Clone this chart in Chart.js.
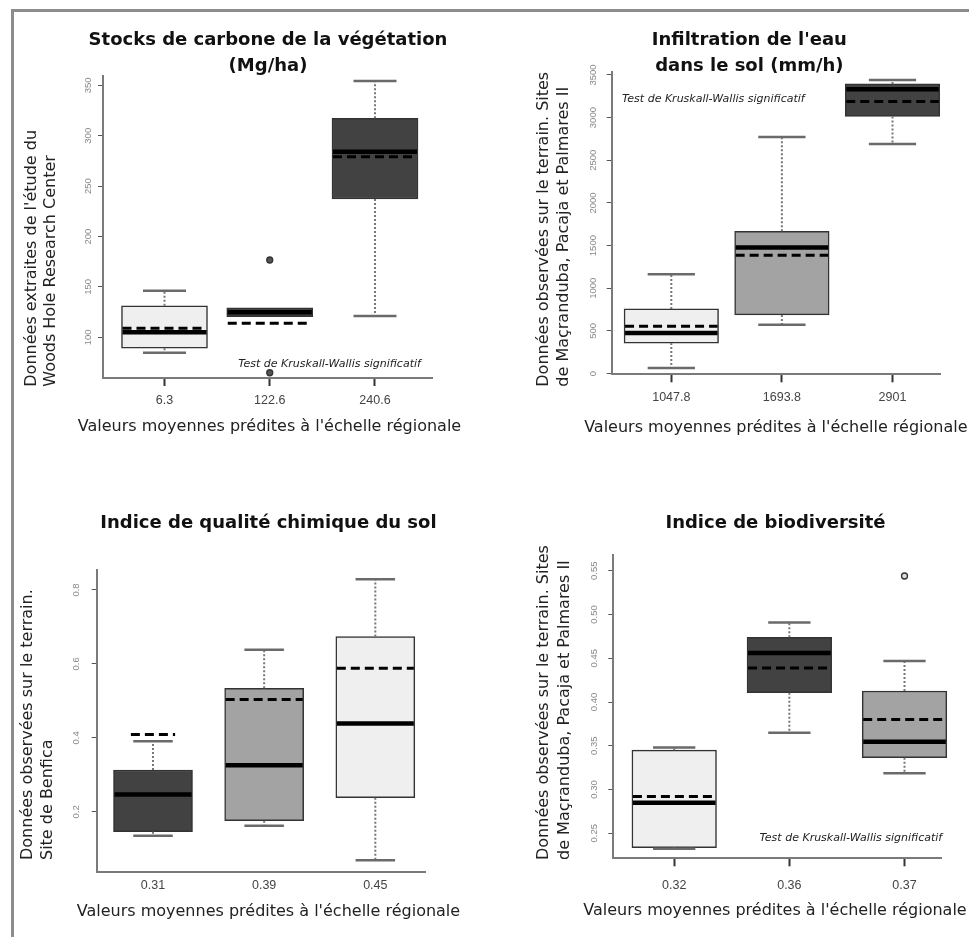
<!DOCTYPE html>
<html>
<head>
<meta charset="utf-8">
<script src="https://cdn.jsdelivr.net/npm/chart.js@4.4.1/dist/chart.umd.min.js"></script>
<style>
  body { margin: 0; background: #fff; width: 969px; height: 937px; overflow: hidden; position: relative; }
  #frame { position: absolute; left: 11px; top: 9px; width: 980px; height: 950px; border-top: 3px solid #8c8c8c; border-left: 3px solid #8c8c8c; }
  canvas { position: absolute; }
</style>
</head>
<body>
<div id="frame"></div>
<canvas id="carbonChart" width="470" height="448" style="left:14px;top:12px"></canvas>
<canvas id="infilChart" width="485" height="448" style="left:484px;top:12px"></canvas>
<canvas id="chimieChart" width="470" height="457" style="left:14px;top:480px"></canvas>
<canvas id="biodivChart" width="485" height="457" style="left:484px;top:480px"></canvas>
<script>
// Stocks de carbone
const carbonLabels = ['6.3', '122.6', '240.6'];
const carbonQ1 = [89.1, 120.4, 237.2];
const carbonQ3 = [131.3, 129.3, 317.3];
const carbonMedian = [105, 124.8, 284.1];
const carbonMean = [108.9, 113.9, 279.2];
const carbonLow = [84.7, 120.4, 121.1];
const carbonHigh = [146.2, 129.3, 354.3];
const carbonOutliers = [{x: 2, y: 176.7}, {x: 2, y: 64.8}];
const carbonYTicks = [100, 150, 200, 250, 300, 350];

// Infiltration
const infilLabels = ['1047.8', '1693.8', '2901'];
const infilQ1 = [358, 688, 3013];
const infilQ3 = [758, 1668, 3395];
const infilMedian = [475, 1478, 3333];
const infilMean = [556, 1388, 3189];
const infilLow = [66, 572, 2692];
const infilHigh = [1163, 2773, 3442];
const infilOutliers = [];
const infilYTicks = [0, 500, 1000, 1500, 2000, 2500, 3000, 3500];

// Qualité chimique
const chimieLabels = ['0.31', '0.39', '0.45'];
const chimieQ1 = [0.146, 0.176, 0.238];
const chimieQ3 = [0.313, 0.534, 0.674];
const chimieMedian = [0.247, 0.326, 0.439];
const chimieMean = [0.409, 0.504, 0.588];
const chimieLow = [0.135, 0.162, 0.069];
const chimieHigh = [0.391, 0.638, 0.829];
const chimieOutliers = [];
const chimieYTicks = [0.2, 0.4, 0.6, 0.8];

// Biodiversité
const biodivLabels = ['0.32', '0.36', '0.37'];
const biodivQ1 = [0.2336, 0.4106, 0.3364];
const biodivQ3 = [0.345, 0.474, 0.4126];
const biodivMedian = [0.285, 0.456, 0.3547];
const biodivMean = [0.292, 0.439, 0.380];
const biodivLow = [0.2324, 0.365, 0.3185];
const biodivHigh = [0.348, 0.491, 0.447];
const biodivOutliers = [{x: 3, y: 0.544}];
const biodivYTicks = [0.25, 0.30, 0.35, 0.40, 0.45, 0.50, 0.55];

const FONT = "'Liberation Sans', Arial, sans-serif";
const WIDE = "'DejaVu Sans', sans-serif";
const LIGHT = '#efefef', MID = '#a3a3a3', DARK = '#424242';
const xTitle = "Valeurs moyennes prédites à l'échelle régionale";
const kwText = 'Test de Kruskall-Wallis significatif';

const boxExtras = {
  id: 'boxExtras',
  afterDatasetsDraw(chart, args, o) {
    const ctx = chart.ctx, xs = chart.scales.x, ys = chart.scales.y;
    const half = o.boxWidth / 2;
    ctx.save();
    for (let i = 0; i < o.median.length; i++) {
      const cx = xs.getPixelForValue(i + 1);
      const yq1 = ys.getPixelForValue(o.q1[i]), yq3 = ys.getPixelForValue(o.q3[i]);
      // moustaches
      ctx.strokeStyle = '#777';
      ctx.lineWidth = 2;
      ctx.setLineDash([2, 2]);
      ctx.beginPath();
      if (o.high[i] > o.q3[i]) { ctx.moveTo(cx, yq3); ctx.lineTo(cx, ys.getPixelForValue(o.high[i])); }
      if (o.low[i] < o.q1[i]) { ctx.moveTo(cx, yq1); ctx.lineTo(cx, ys.getPixelForValue(o.low[i])); }
      ctx.stroke();
      ctx.setLineDash([]);
      ctx.strokeStyle = '#6a6a6a';
      ctx.lineWidth = 2.5;
      ctx.beginPath();
      if (o.high[i] > o.q3[i]) { const yh = ys.getPixelForValue(o.high[i]); ctx.moveTo(cx - half / 2, yh); ctx.lineTo(cx + half / 2, yh); }
      if (o.low[i] < o.q1[i]) { const yl = ys.getPixelForValue(o.low[i]); ctx.moveTo(cx - half / 2, yl); ctx.lineTo(cx + half / 2, yl); }
      ctx.stroke();
      // mediane
      const ym = ys.getPixelForValue(o.median[i]);
      ctx.strokeStyle = '#000';
      ctx.lineWidth = 4.5;
      ctx.beginPath(); ctx.moveTo(cx - half + 1, ym); ctx.lineTo(cx + half - 1, ym); ctx.stroke();
      // moyenne (plus courte quand elle sort de la boite)
      const ymean = ys.getPixelForValue(o.mean[i]);
      const mh = o.mean[i] > o.q3[i] ? half * 0.56 : half - 1;
      ctx.lineWidth = 3;
      ctx.setLineDash([9, 5]);
      ctx.beginPath(); ctx.moveTo(cx - mh, ymean); ctx.lineTo(cx + mh, ymean); ctx.stroke();
      ctx.setLineDash([]);
    }
    ctx.restore();
  },
  afterDraw(chart, args, o) {
    const ctx = chart.ctx, xs = chart.scales.x, ys = chart.scales.y, area = chart.chartArea;
    const cx = (area.left + area.right) / 2;
    ctx.save();
    // graduations y
    ctx.fillStyle = '#888';
    ctx.font = '9.5px ' + FONT;
    ctx.textAlign = 'center';
    ctx.textBaseline = 'middle';
    o.yTicks.forEach((v, i) => {
      ctx.save();
      ctx.translate(area.left + o.yLabelDx, ys.getPixelForValue(v));
      ctx.rotate(-Math.PI / 2);
      ctx.fillText(o.yTickLabels[i], 0, 0);
      ctx.restore();
    });
    // titre
    ctx.fillStyle = '#111';
    ctx.font = 'bold 18px ' + WIDE;
    o.title.forEach((t, i) => ctx.fillText(t, cx + o.titleDx, area.top + o.titleDy[i]));
    // titre axe x
    ctx.fillStyle = '#222';
    ctx.font = '16px ' + WIDE;
    ctx.fillText(xTitle, cx + o.xTitleDx, area.bottom + o.xTitleDy);
    // titre axe y
    ctx.textAlign = 'left';
    o.yTitle.forEach((t, i) => {
      ctx.save();
      ctx.translate(area.left + o.yTitleDx[i], area.bottom + o.yTitleDy);
      ctx.rotate(-Math.PI / 2);
      ctx.fillText(t, 0, 0);
      ctx.restore();
    });
    // test
    if (o.note) {
      ctx.fillStyle = '#222';
      ctx.font = 'italic 11px ' + WIDE;
      ctx.textAlign = 'center';
      ctx.fillText(kwText, xs.getPixelForValue(o.note.x), ys.getPixelForValue(o.note.y));
    }
    ctx.restore();
  }
};

function drawBoxChart(id, d, s) {
  const ctx = document.getElementById(id);
  return new Chart(ctx, {
    type: 'bar',
    data: {
      datasets: [{
        type: 'bar',
        data: d.labels.map((l, i) => ({x: i + 1, y: [d.q1[i], d.q3[i]]})),
        backgroundColor: s.fills,
        borderColor: '#333',
        borderWidth: 1.5,
        borderSkipped: false,
        barThickness: s.boxWidth,
        clip: false
      }, {
        type: 'line',
        data: d.outliers,
        showLine: false,
        pointRadius: 3,
        pointBackgroundColor: s.pointFill,
        pointBorderColor: '#333',
        pointBorderWidth: 1.3,
        clip: false
      }]
    },
    options: {
      responsive: false,
      animation: false,
      events: [],
      layout: { padding: { left: 0, right: s.padRight, top: s.padTop, bottom: 0 } },
      plugins: {
        legend: { display: false },
        tooltip: { enabled: false },
        boxExtras: {
          boxWidth: s.boxWidth,
          q1: d.q1, q3: d.q3, median: d.median, mean: d.mean, low: d.low, high: d.high,
          yTicks: d.yTicks, yTickLabels: d.yTickLabels, yLabelDx: s.yLabelDx,
          title: d.title, titleDx: s.titleDx, titleDy: s.titleDy,
          xTitleDx: s.xTitleDx, xTitleDy: s.xTitleDy,
          yTitle: d.yTitle, yTitleDx: s.yTitleDx, yTitleDy: s.yTitleDy,
          note: s.note
        }
      },
      scales: {
        x: {
          type: 'linear',
          offset: false,
          min: s.xMin,
          max: s.xMax,
          afterBuildTicks: sc => { sc.ticks = d.labels.map((l, i) => ({value: i + 1})); },
          afterFit: sc => { sc.height = s.xHeight; },
          grid: { display: true, offset: false, drawOnChartArea: false, drawTicks: s.xTicks, tickLength: 8, tickColor: '#333', tickWidth: 2 },
          border: { display: true, color: '#7a7a7a', width: 2 },
          ticks: {
            autoSkip: false, maxRotation: 0, padding: s.xLabelPad, color: '#444',
            font: { family: FONT, size: 12.5 },
            callback: (v, i) => d.labels[i]
          }
        },
        y: {
          type: 'linear',
          min: s.yMin,
          max: s.yMax,
          afterBuildTicks: sc => { sc.ticks = d.yTicks.map(v => ({value: v})); },
          afterFit: sc => { sc.width = s.yWidth; },
          grid: { display: true, drawOnChartArea: false, tickLength: 5, tickColor: '#555', tickWidth: 1 },
          border: { display: true, color: '#7a7a7a', width: 2 },
          ticks: { display: false }
        }
      }
    },
    plugins: [boxExtras]
  });
}

drawBoxChart('carbonChart', {
  labels: carbonLabels, q1: carbonQ1, q3: carbonQ3, median: carbonMedian, mean: carbonMean,
  low: carbonLow, high: carbonHigh, outliers: carbonOutliers,
  yTicks: carbonYTicks, yTickLabels: carbonYTicks.map(String),
  title: ['Stocks de carbone de la végétation', '(Mg/ha)'],
  yTitle: ["Données extraites de l'étude du", 'Woods Hole Research Center']
}, {
  fills: [LIGHT, DARK, DARK], pointFill: '#555', boxWidth: 86,
  xMin: 0.4157, xMax: 3.5416, yMin: 59.6, yMax: 359.3,
  padRight: 52, padTop: 64, xHeight: 82, yWidth: 89, xTicks: true, xLabelPad: 7.5,
  yLabelDx: -15, titleDx: 0.5, titleDy: [-36, -10],
  xTitleDx: 2, xTitleDy: 49,
  yTitleDx: [-70.7, -52.3], yTitleDy: 8.7,
  note: {x: 2.568, y: 73.5}
});

drawBoxChart('infilChart', {
  labels: infilLabels, q1: infilQ1, q3: infilQ3, median: infilMedian, mean: infilMean,
  low: infilLow, high: infilHigh, outliers: infilOutliers,
  yTicks: infilYTicks, yTickLabels: infilYTicks.map(String),
  title: ["Infiltration de l'eau", 'dans le sol (mm/h)'],
  yTitle: ['Données observées sur le terrain. Sites', 'de Maçranduba, Pacaja et Palmares II']
}, {
  fills: [LIGHT, MID, DARK], pointFill: '#555', boxWidth: 94.5,
  xMin: 0.4611, xMax: 3.4295, yMin: -8, yMax: 3538,
  padRight: 29, padTop: 59.7, xHeight: 85.7, yWidth: 127.7, xTicks: true, xLabelPad: 7.5,
  yLabelDx: -18.4, titleDx: -26.5, titleDy: [-31.7, -5.7],
  xTitleDx: 0, xTitleDy: 53.4,
  yTitleDx: [-67.7, -47.7], yTitleDy: 12.4,
  note: {x: 1.38, y: 3216}
});

drawBoxChart('chimieChart', {
  labels: chimieLabels, q1: chimieQ1, q3: chimieQ3, median: chimieMedian, mean: chimieMean,
  low: chimieLow, high: chimieHigh, outliers: chimieOutliers,
  yTicks: chimieYTicks, yTickLabels: chimieYTicks.map(v => v.toFixed(1)),
  title: ['Indice de qualité chimique du sol'],
  yTitle: ['Données observées sur le terrain.', 'Site de Benfica']
}, {
  fills: [DARK, MID, LIGHT], pointFill: '#555', boxWidth: 79,
  xMin: 0.4935, xMax: 3.447, yMin: 0.038, yMax: 0.854,
  padRight: 59, padTop: 90, xHeight: 65.3, yWidth: 82.7, xTicks: false, xLabelPad: 6,
  yLabelDx: -20, titleDx: 7.6, titleDy: [-46.3],
  xTitleDx: 7.6, xTitleDy: 40,
  yTitleDx: [-69.2, -49.2], yTitleDy: -11.7,
  note: null
});

drawBoxChart('biodivChart', {
  labels: biodivLabels, q1: biodivQ1, q3: biodivQ3, median: biodivMedian, mean: biodivMean,
  low: biodivLow, high: biodivHigh, outliers: biodivOutliers,
  yTicks: biodivYTicks, yTickLabels: biodivYTicks.map(v => v.toFixed(2)),
  title: ['Indice de biodiversité'],
  yTitle: ['Données observées sur le terrain. Sites', 'de Maçranduba, Pacaja et Palmares II']
}, {
  fills: [LIGHT, DARK, MID], pointFill: '#ddd', boxWidth: 84.6,
  xMin: 0.4711, xMax: 3.323, yMin: 0.2214, yMax: 0.568,
  padRight: 27.3, padTop: 75, xHeight: 78.7, yWidth: 129.3, xTicks: true, xLabelPad: 11.5,
  yLabelDx: -19.3, titleDx: -2, titleDy: [-31.3],
  xTitleDx: -2.5, xTitleDy: 52.7,
  yTitleDx: [-69.3, -48.3], yTitleDy: 1.7,
  note: {x: 2.534, y: 0.2443}
});
</script>
</body>
</html>
